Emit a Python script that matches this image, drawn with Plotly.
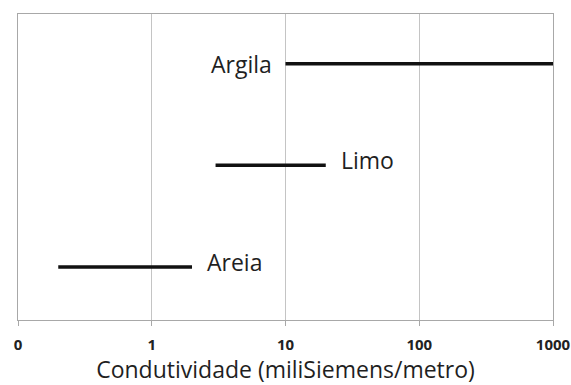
import math
import plotly.graph_objects as go

# Conductivity ranges (mS/m) for each soil type
soils = ["Argila", "Limo", "Areia"]
cond_min = [10, 3, 0.2]
cond_max = [1000, 20, 2]
row = [3, 2, 1]

tick_vals = [0.1, 1, 10, 100, 1000]
tick_text = ["0", "1", "10", "100", "1000"]

font_family = "'Open Sans', Lato, sans-serif"
text_color = "#1f1f1f"
grid_color = "#c4c4c4"
frame_color = "#a8a8a8"

fig = go.Figure()

for name, lo, hi, y in zip(soils, cond_min, cond_max, row):
    fig.add_trace(go.Scatter(
        x=[lo, hi], y=[y, y], mode="lines",
        line=dict(color="#111111", width=3.5),
        name=name, showlegend=False, hoverinfo="skip",
    ))

# Labels: Argila sits to the left of its bar, the others to the right.
# Annotations on a log axis take log10 positions.
label_cfg = {
    "Argila": dict(side="left", yshift=0),
    "Limo": dict(side="right", yshift=5),
    "Areia": dict(side="right", yshift=5),
}
for name, lo, hi, y in zip(soils, cond_min, cond_max, row):
    cfg = label_cfg[name]
    left = cfg["side"] == "left"
    fig.add_annotation(
        x=math.log10(lo if left else hi), y=y, xref="x", yref="y", text=name,
        showarrow=False, xanchor="right" if left else "left",
        xshift=-12 if left else 13, yshift=cfg["yshift"],
        font=dict(family=font_family, size=23, color=text_color),
    )

fig.update_xaxes(
    type="log", range=[-1, 3],
    tickvals=tick_vals, ticktext=tick_text,
    tickfont=dict(family=font_family, size=15, color="#222222", weight="bold"),
    ticks="outside", ticklen=5, tickcolor=frame_color, ticklabelstandoff=6,
    showgrid=True, gridcolor=grid_color, gridwidth=1,
    showline=True, linecolor=frame_color, linewidth=1, mirror=True,
    zeroline=False, automargin=False,
    title=dict(text="Condutividade (miliSiemens/metro)", standoff=6,
               font=dict(family=font_family, size=23, color=text_color)),
)
fig.update_yaxes(
    range=[0.478, 3.49], showticklabels=False, showgrid=False,
    showline=True, linecolor=frame_color, linewidth=1, mirror=True,
    zeroline=False, ticks="", automargin=False,
)

fig.update_layout(
    width=571, height=385,
    margin=dict(l=18, r=18, t=14, b=65),
    paper_bgcolor="white", plot_bgcolor="white",
)

fig.write_html("out.html")
